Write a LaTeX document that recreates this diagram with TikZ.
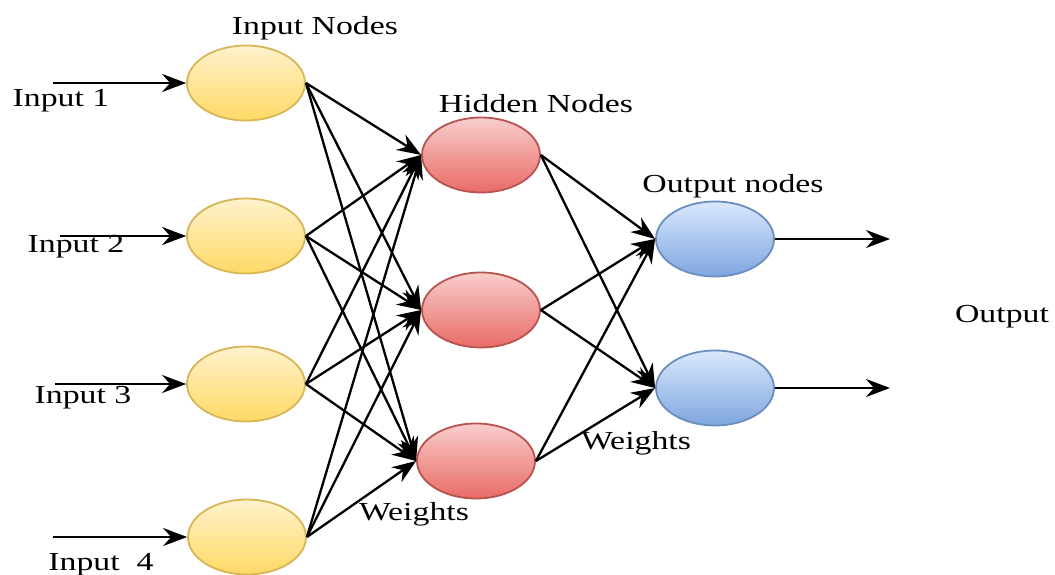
\documentclass[tikz,border=0pt]{standalone}
\usepackage{fontspec}
\setmainfont{Liberation Serif}[FakeStretch=1.3]
\usetikzlibrary{shapes.geometric,arrows.meta}
\definecolor{inTop}{HTML}{FFF2CC}
\definecolor{inBot}{HTML}{FFD966}
\definecolor{inLine}{HTML}{D6B656}
\definecolor{hiTop}{HTML}{F8CECC}
\definecolor{hiBot}{HTML}{EA6B66}
\definecolor{hiLine}{HTML}{B85450}
\definecolor{ouTop}{HTML}{DAE8FC}
\definecolor{ouBot}{HTML}{7EA6E0}
\definecolor{ouLine}{HTML}{6C8EBF}
\tikzset{
  neuron/.style={ellipse, minimum width=118pt, minimum height=75pt, inner sep=0pt, line width=1.8pt},
  inneuron/.style={neuron, draw=inLine, top color=inTop, bottom color=inBot},
  hineuron/.style={neuron, draw=hiLine, top color=hiTop, bottom color=hiBot},
  outneuron/.style={neuron, draw=ouLine, top color=ouTop, bottom color=ouBot},
  conn/.style={line width=2.3pt, -{Stealth[length=24pt,width=18pt,inset=8pt]}},
  lbl/.style={anchor=base, inner sep=0pt, font=\fontsize{26}{30}\selectfont}
}
\begin{document}
\begin{tikzpicture}[x=1pt,y=-1pt]
\useasboundingbox (0,0) rectangle (1055,575);
% input nodes
\node[inneuron] (i1) at (246,83) {};
\node[inneuron] (i2) at (246,236) {};
\node[inneuron] (i3) at (246,384) {};
\node[inneuron] (i4) at (247,537) {};
% hidden nodes
\node[hineuron] (h1) at (481,155) {};
\node[hineuron] (h2) at (481,310) {};
\node[hineuron] (h3) at (476,461) {};
% output nodes
\node[outneuron] (o1) at (715,239) {};
\node[outneuron] (o2) at (715,388) {};
% input arrow starts
\coordinate (s1) at (53,83);
\coordinate (s2) at (60,236);
\coordinate (s3) at (55,384);
\coordinate (s4) at (53,537);
\draw[conn] (s1) -- (i1.west);
\draw[conn] (s2) -- (i2.west);
\draw[conn] (s3) -- (i3.west);
\draw[conn] (s4) -- (i4.west);
% input -> hidden
\foreach \i in {1,2,3,4}{
  \foreach \h in {1,2,3}{
    \draw[conn] (i\i.east) -- (h\h.west);
  }
}
% hidden -> output
\foreach \h in {1,2,3}{
  \foreach \o in {1,2}{
    \draw[conn] (h\h.east) -- (o\o.west);
  }
}
% output arrows
\coordinate (e1) at (890,239);
\coordinate (e2) at (890,388);
\draw[conn] (o1.east) -- (e1);
\draw[conn] (o2.east) -- (e2);
% labels
\node[lbl] (tIn) at (315,35) {Input Nodes};
\node[lbl] (tHid) at (536,113) {Hidden Nodes};
\node[lbl] (tOutN) at (733,193) {Output nodes};
\node[lbl] (tOut) at (1002,322) {Output};
\node[lbl] (tI1) at (61,107) {Input 1};
\node[lbl] (tI2) at (76,252) {Input 2};
\node[lbl] (tI3) at (83,403) {Input 3};
\node[lbl] (tI4) at (101,570) {Input\ \ 4};
\node[lbl] (tW1) at (414,520) {Weights};
\node[lbl] (tW2) at (636,449) {Weights};
\end{tikzpicture}
\end{document}
